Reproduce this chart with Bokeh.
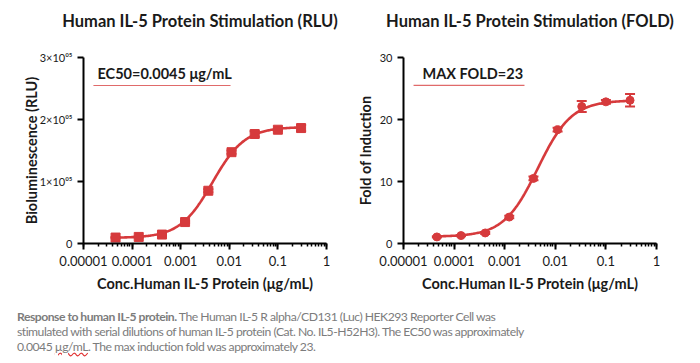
from bokeh.plotting import figure
from bokeh.models import (ColumnDataSource, Whisker, LogTicker, FixedTicker,
                          Range1d, Div)
from bokeh.core.properties import value
from bokeh.layouts import row, column
from bokeh.embed import file_html
from bokeh.resources import INLINE
import numpy as np

# ---------------- data ----------------
conc = [0.0000457, 0.000137, 0.000412, 0.00123, 0.0037, 0.0111, 0.0333, 0.1, 0.3]
rlu = [9600, 10600, 14400, 34600, 85100, 147300, 176600, 183500, 186200]
rlu_err = [1000, 1000, 1200, 1500, 2500, 2500, 4500, 1500, 5000]
fold = [1.06, 1.28, 1.70, 4.26, 10.5, 18.35, 22.1, 22.85, 23.1]
fold_err = [0.1, 0.1, 0.15, 0.2, 0.3, 0.3, 0.9, 0.3, 1.0]

# four-parameter logistic fit parameters
rlu_fit = dict(bottom=9000, top=188000, ec50=0.0045, hill=1.3)
fold_fit = dict(bottom=1.1, top=23.1, ec50=0.0045, hill=1.3)

titles = ["Human IL-5 Protein Stimulation (RLU)", "Human IL-5 Protein Stimulation (FOLD)"]
x_ticks = [0.00001, 0.0001, 0.001, 0.01, 0.1, 1]
x_tick_labels = ["0.00001", "0.0001", "0.001", "0.01", "0.1", "1"]
rlu_ticks = [0, 100000, 200000, 300000]
rlu_tick_labels = ["0", "1×10⁰⁵", "2×10⁰⁵", "3×10⁰⁵"]
fold_ticks = [0, 10, 20, 30]
fold_tick_labels = ["0", "10", "20", "30"]

RED = "#d63a3c"
LINE_RED = "#e06a6a"
FONT = "Lato"
TXT = "#1a1a1a"


def fourpl(x, p):
    return p["bottom"] + (p["top"] - p["bottom"]) / (1 + (p["ec50"] / x) ** p["hill"])


def make_fig(y, yerr, fit, ymax, yticks, ylabels, ylabel, ylabel_standoff,
             note, note_pos, underline, marker, msize, width, left, right):
    p = figure(width=width, height=264, x_axis_type="log", output_backend="svg",
               toolbar_location=None, x_range=Range1d(0.00001, 1),
               y_range=Range1d(0, ymax),
               min_border_left=left, min_border_right=right,
               min_border_top=21, min_border_bottom=57,
               background_fill_color="white", border_fill_color="white",
               margin=0)
    p.outline_line_color = None
    p.grid.visible = False

    xs = np.logspace(np.log10(conc[0]), np.log10(conc[-1]), 200)
    p.line(xs, fourpl(xs, fit), line_color=RED, line_width=2.6)

    src = ColumnDataSource(dict(x=conc, y=y, lo=[a - b for a, b in zip(y, yerr)],
                                hi=[a + b for a, b in zip(y, yerr)]))
    w = Whisker(source=src, base="x", lower="lo", upper="hi", line_color=RED,
                line_width=2)
    for h in (w.upper_head, w.lower_head):
        h.line_color = RED
        h.size = 10
        h.line_width = 2
    p.add_layout(w)
    p.scatter("x", "y", source=src, marker=marker, size=msize, fill_color=RED,
              line_color=RED)

    # annotation text and red underline (data coordinates)
    p.text(x=[note_pos[0]], y=[note_pos[1]], text=[note], text_font=value(FONT),
           text_font_style="bold", text_font_size="14.5px", text_align="left",
           text_baseline="middle", text_color=TXT)
    p.line(x=[underline[0], underline[1]], y=[underline[2], underline[2]],
           line_color=LINE_RED, line_width=1.2)

    # axes
    xa = p.xaxis[0]
    xa.ticker = LogTicker(desired_num_ticks=6, num_minor_ticks=10)
    xa.major_label_overrides = {t: l for t, l in zip(x_ticks, x_tick_labels)}
    xa.axis_label = "Conc.Human IL-5 Protein (μg/mL)"
    ya = p.yaxis[0]
    ya.ticker = FixedTicker(ticks=yticks)
    ya.major_label_overrides = {t: l for t, l in zip(yticks, ylabels)}
    ya.axis_label = ylabel
    for ax in (xa, ya):
        ax.axis_line_width = 2
        ax.axis_line_color = "black"
        ax.major_tick_line_width = 2
        ax.minor_tick_line_width = 1.5
        ax.major_tick_line_color = "black"
        ax.minor_tick_line_color = "black"
        ax.major_tick_out = 6
        ax.major_tick_in = 0
        ax.minor_tick_out = 3
        ax.minor_tick_in = 0
        ax.major_label_text_font = FONT
        ax.major_label_text_color = TXT
        ax.axis_label_text_font = FONT
        ax.axis_label_text_font_style = "bold"
        ax.axis_label_text_color = TXT
        ax.axis_label_text_font_size = "14.5px"
    xa.major_label_text_font_size = "13px"
    ya.major_label_text_font_size = "11px"
    ya.minor_tick_out = 0
    xa.major_label_standoff = 6
    xa.axis_label_standoff = 6
    ya.axis_label_standoff = ylabel_standoff
    return p


p1 = make_fig(rlu, rlu_err, rlu_fit, 300000, rlu_ticks, rlu_tick_labels,
              "Bioluminescence (RLU)", -3,
              "EC50=0.0045 μg/mL", (0.0000194, 274000), (0.000016, 0.0106, 254800),
              "square", 9, 350, 83, 24)
p2 = make_fig(fold, fold_err, fold_fit, 30, fold_ticks, fold_tick_labels,
              "Fold of Induction", 3,
              "MAX FOLD=23", (0.0000237, 27.4), (0.0000158, 0.00246, 25.5),
              "circle", 8, 350, 53, 44)

TSTYLE = ('position:absolute;top:10px;transform:translateX(-50%);white-space:nowrap;'
          'font-family:Lato;font-weight:bold;font-size:16.5px;line-height:22px;'
          f'color:{TXT};')
header = Div(text=(
    '<div style="position:relative;width:700px;height:36px;margin:0;">'
    f'<span style="{TSTYLE}left:200px;">{titles[0]}</span>'
    f'<span style="{TSTYLE}left:530px;">{titles[1]}</span></div>'),
    width=700, height=36, margin=0)

LINE = ('display:block;width:478px;font-family:Lato;font-size:12.2px;'
        'line-height:15px;color:#7c7c7c;letter-spacing:-0.5px;white-space:nowrap;')
JUST = 'text-align:justify;text-align-last:justify;'
caption = Div(text=(
    '<div style="margin-left:17px;margin-top:9px;">'
    f'<div style="{LINE}{JUST}"><b>Response to human IL-5 protein.</b> The Human IL-5 R '
    'alpha/CD131 (Luc) HEK293 Reporter Cell was</div>'
    f'<div style="{LINE}{JUST}">stimulated with serial dilutions of human IL-5 protein '
    '(Cat. No. IL5-H52H3). The EC50 was approximately</div>'
    f'<div style="{LINE}">0.0045 '
    '<span style="text-decoration:underline wavy #e03030;">µg/mL</span>. '
    'The max induction fold was approximately 23.</div></div>'),
    width=700, height=62, margin=0)

layout = column(header, row(p1, p2, spacing=0, margin=0), caption, spacing=0, margin=0)
open("out.html", "w").write(file_html(layout, INLINE))
